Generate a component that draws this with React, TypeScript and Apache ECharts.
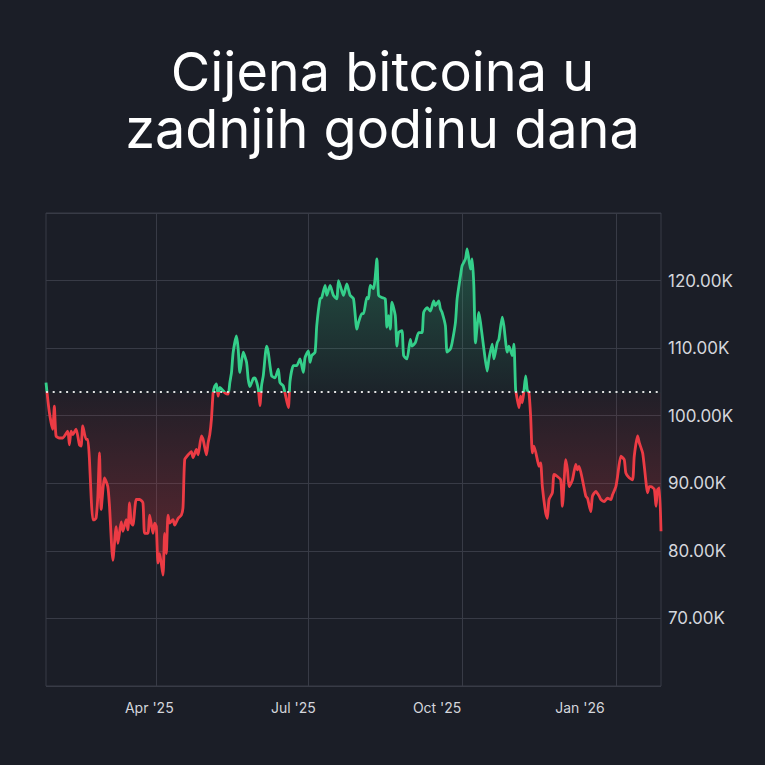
import React, { useEffect, useRef } from 'react';
import * as echarts from 'echarts';

const titleText = 'Cijena bitcoina u\nzadnjih godinu dana';
const startDate = '2025-01-25';
const totalDays = 369;

// day offset from startDate, and BTC price in thousands of USD
const dayOffsets = [
  0, 2, 4, 5, 6, 8, 10, 13, 14, 15, 16, 18, 20, 21, 22, 24, 25, 26, 27, 28,
  29, 30, 31, 32, 33, 35, 37, 38, 40, 42, 43, 45, 46, 48, 49, 50, 51, 52, 54, 56,
  58, 59, 61, 62, 64, 65, 66, 67, 68, 70, 71, 72, 73, 74, 76, 77, 79, 81, 82, 83,
  85, 87, 88, 90, 91, 93, 94, 96, 97, 98, 99, 100, 101, 102, 103, 104, 106, 107, 109, 110,
  111, 112, 114, 115, 116, 118, 120, 121, 122, 124, 125, 127, 128, 129, 130, 132, 133, 135, 137, 139,
  140, 142, 145, 146, 148, 150, 152, 154, 155, 157, 158, 159, 161, 162, 164, 165, 167, 168, 170, 172,
  174, 175, 177, 178, 180, 182, 184, 186, 187, 189, 190, 192, 193, 194, 196, 198, 199, 201, 203, 204,
  205, 206, 207, 209, 210, 211, 213, 214, 216, 218, 219, 221, 223, 225, 226, 228, 230, 232, 233, 235,
  236, 237, 239, 240, 242, 243, 245, 246, 248, 249, 251, 252, 254, 255, 256, 257, 259, 260, 262, 264,
  265, 267, 268, 270, 271, 273, 274, 276, 277, 279, 280, 281, 282, 283, 284, 285, 286, 287, 288, 289,
  290, 291, 292, 294, 295, 296, 297, 299, 300, 301, 303, 304, 306, 308, 309, 311, 312, 313, 315, 317,
  318, 319, 321, 323, 324, 326, 327, 329, 331, 332, 334, 336, 338, 339, 341, 342, 344, 346, 347, 349,
  351, 352, 354, 355, 357, 358, 360, 361, 362, 364, 365, 366, 367, 368
];
const pricesK = [
  104.9, 100.5, 98.0, 101.4, 97.0, 96.7, 96.7, 97.7, 95.7, 97.7, 97.2, 98.0, 95.7, 95.5, 98.5, 96.5, 96.5, 93.5, 88.0, 84.6,
  84.6, 84.9, 88.0, 94.5, 86.1, 90.8, 89.5, 86.6, 78.6, 83.6, 81.1, 84.3, 82.9, 84.6, 83.1, 87.1, 84.1, 83.8, 87.6, 87.6,
  87.1, 82.6, 82.6, 85.3, 82.6, 84.1, 83.6, 78.2, 79.6, 76.4, 82.6, 79.6, 85.3, 84.1, 84.6, 83.8, 84.8, 85.3, 86.5, 93.5,
  94.2, 94.7, 93.8, 95.0, 94.2, 97.0, 96.5, 94.2, 96.0, 97.2, 99.5, 103.4, 104.4, 104.7, 102.9, 104.2, 103.7, 103.4, 103.2, 104.9,
  106.4, 109.4, 111.8, 109.9, 106.4, 109.4, 107.9, 105.4, 104.3, 105.5, 105.6, 104.0, 101.5, 104.5, 105.9, 110.3, 109.4, 105.9, 105.6, 106.9,
  104.9, 104.4, 101.2, 105.1, 107.4, 107.4, 108.4, 106.4, 108.6, 109.6, 107.9, 108.9, 109.4, 113.3, 117.3, 117.5, 119.3, 117.8, 119.3, 117.8,
  117.3, 120.0, 118.5, 117.8, 119.5, 117.8, 117.3, 112.8, 113.8, 115.1, 115.1, 117.5, 117.3, 119.3, 118.8, 123.2, 117.8, 117.5, 117.3, 113.1,
  114.8, 112.8, 116.8, 114.8, 110.3, 112.3, 112.6, 108.9, 108.4, 111.3, 110.3, 110.8, 112.3, 112.3, 115.3, 116.0, 115.5, 117.0, 116.3, 117.0,
  115.8, 115.3, 113.3, 109.4, 109.9, 110.8, 113.8, 117.3, 120.7, 122.2, 123.2, 124.7, 121.7, 123.2, 119.3, 110.8, 115.3, 113.8, 109.9, 106.6,
  108.4, 110.6, 108.4, 110.8, 111.3, 114.6, 113.3, 109.4, 110.3, 108.9, 110.6, 103.9, 102.4, 101.2, 102.9, 101.9, 103.7, 105.9, 103.8, 103.4,
  99.9, 94.5, 95.5, 93.5, 92.5, 93.0, 89.5, 85.6, 84.8, 87.6, 88.6, 91.3, 91.0, 90.5, 86.6, 93.5, 92.0, 89.5, 90.5, 92.8,
  92.0, 92.5, 90.5, 88.1, 87.8, 85.8, 88.1, 88.8, 88.1, 87.6, 87.3, 87.8, 87.6, 88.3, 89.5, 91.0, 94.0, 93.5, 91.5, 90.8,
  90.5, 94.0, 97.0, 96.0, 94.5, 92.5, 88.6, 89.5, 89.5, 89.1, 86.6, 89.1, 89.3, 82.9
];

const baselinePrice = 103500;
const yMin = 60000;
const yMax = 130000;
const yStep = 10000;

const xLabelDates = ['2025-04-01', '2025-07-01', '2025-10-01', '2026-01-01'];
const xLabelTexts = ["Apr '25", "Jul '25", "Oct '25", "Jan '26"];
// visual nudge (px to the left) of each bottom label, as in the reference
const xLabelNudge = [7, 15, 25, 36];

const GREEN = '#34cf8a';
const RED = '#ec3b44';
const GRIDC = '#383b46';
const BG = '#1b1e27';
const LABELC = '#d4d6dc';

function buildCategories(): string[] {
  const [y, m, d] = startDate.split('-').map(Number);
  const base = Date.UTC(y, m - 1, d);
  const out: string[] = [];
  for (let i = 0; i < totalDays; i++) {
    const dt = new Date(base + i * 86400000);
    const mm = String(dt.getUTCMonth() + 1).padStart(2, '0');
    const dd = String(dt.getUTCDate()).padStart(2, '0');
    out.push(`${dt.getUTCFullYear()}-${mm}-${dd}`);
  }
  return out;
}

export default function App() {
  const ref = useRef<HTMLDivElement>(null);
  useEffect(() => {
    document.body.style.margin = '0';
    document.body.style.background = BG;
    const el = ref.current!;
    const chart = echarts.init(el, null, { renderer: 'svg' });
    const categories = buildCategories();
    const seriesData = dayOffsets.map((d, i) => [d, pricesK[i] * 1000]);
    const isLabelDay = (_idx: number, value: string) => xLabelDates.indexOf(value) >= 0;

    const gridTop = 213;
    const gridBottomPx = 686;
    const rich: Record<string, any> = {};
    xLabelTexts.forEach((_, i) => {
      rich['q' + i] = {
        color: LABELC,
        fontSize: 14,
        fontFamily: 'Inter',
        padding: [0, xLabelNudge[i] * 2, 0, 0],
      };
    });

    const option: any = {
      animation: false,
      backgroundColor: BG,
      title: {
        text: titleText,
        left: 'center',
        top: 38,
        textStyle: {
          color: '#ffffff',
          fontSize: 54,
          fontWeight: 400,
          lineHeight: 57,
          fontFamily: 'Inter',
        },
      },
      grid: {
        left: 46,
        right: 104,
        top: gridTop,
        bottom: 765 - gridBottomPx,
        show: true,
        borderColor: GRIDC,
        borderWidth: 1,
        backgroundColor: 'transparent',
      },
      xAxis: {
        type: 'category',
        data: categories,
        boundaryGap: false,
        axisLine: { show: false },
        axisTick: { show: false },
        axisLabel: {
          interval: isLabelDay,
          margin: 14,
          color: LABELC,
          fontSize: 14,
          fontFamily: 'Inter',
          formatter: (value: string) => {
            const i = xLabelDates.indexOf(value);
            return i >= 0 ? `{q${i}|${xLabelTexts[i]}}` : '';
          },
          rich,
        },
        splitLine: {
          show: true,
          interval: isLabelDay,
          lineStyle: { color: GRIDC, width: 1 },
        },
      },
      yAxis: {
        type: 'value',
        position: 'right',
        min: yMin,
        max: yMax,
        interval: yStep,
        axisLine: { show: false },
        axisTick: { show: false },
        axisLabel: {
          showMinLabel: false,
          showMaxLabel: false,
          margin: 7,
          color: LABELC,
          fontSize: 17,
          fontFamily: 'Inter',
          formatter: (v: number) => (v / 1000).toFixed(2) + 'K',
        },
        splitLine: { show: true, lineStyle: { color: GRIDC, width: 1 } },
      },
      visualMap: {
        type: 'piecewise',
        show: false,
        dimension: 1,
        seriesIndex: 0,
        pieces: [
          { min: yMin, max: baselinePrice, color: RED },
          { min: baselinePrice, max: yMax, color: GREEN },
        ],
        outOfRange: { color: GREEN },
      },
      series: [
        {
          type: 'line',
          data: seriesData,
          showSymbol: false,
          symbol: 'none',
          smooth: 0.2,
          lineStyle: { width: 2.8, join: 'round' },
          areaStyle: {
            origin: baselinePrice,
            color: {
              type: 'linear',
              x: 0,
              y: gridTop,
              x2: 0,
              y2: gridBottomPx,
              global: true,
              colorStops: [
                { offset: 0, color: 'rgba(52,207,138,0.5)' },
                { offset: 0.38, color: 'rgba(52,207,138,0.04)' },
                { offset: 0.38, color: 'rgba(236,59,68,0.04)' },
                { offset: 0.72, color: 'rgba(236,59,68,0.42)' },
                { offset: 1, color: 'rgba(236,59,68,0.42)' },
              ],
            },
          },
          markLine: {
            silent: true,
            symbol: ['none', 'none'],
            label: { show: false },
            lineStyle: { type: [2, 4.7], width: 2, color: '#e2e2e2' },
            data: [{ yAxis: baselinePrice }],
          },
        },
      ],
    };
    chart.setOption(option);
    return () => chart.dispose();
  }, []);
  return (
    <div
      ref={ref}
      style={{ position: 'absolute', left: 0, top: 0, width: 765, height: 765 }}
    />
  );
}
